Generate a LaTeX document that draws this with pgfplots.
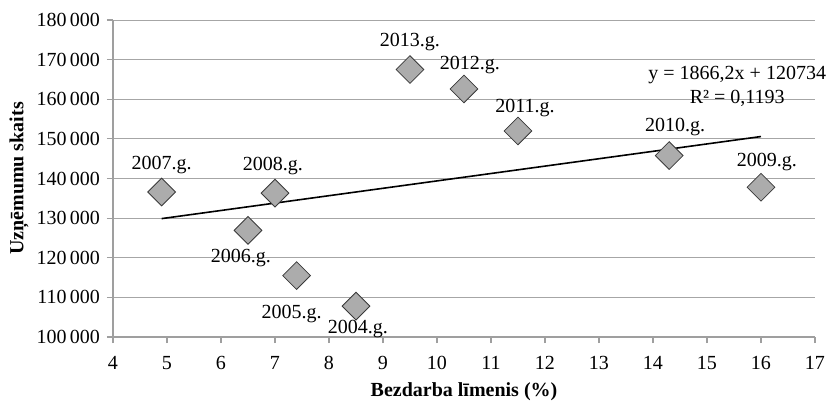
\documentclass[border=0pt]{standalone}
\usepackage{fontspec}
\setmainfont{Liberation Serif}
\usepackage{pgfplots}
\usepackage{pgfplotstable}
\pgfplotsset{compat=1.18}

% unemployment rate (%) vs number of enterprises, label offsets in pt
\pgfplotstableread{
x     y       lab      dx    dy
8.5   107800  2004.g.  1.0   -11.5
7.4   115500  2005.g.  -2.5  -19.0
6.5   126900  2006.g.  -3.5  -14.0
4.9   136600  2007.g.  0.0   13.5
7.0   136300  2008.g.  -1.0  13.5
16.0  137800  2009.g.  3.0   12.5
14.3  145800  2010.g.  3.0   14.5
11.5  152000  2011.g.  3.5   11.5
10.5  162600  2012.g.  3.0   12.0
9.5   167500  2013.g.  0.0   14.0
}\pts

\begin{document}
\begin{tikzpicture}
\begin{axis}[
    at={(0,0)}, anchor=south west,
    scale only axis,
    width=351pt, height=158.5pt,
    xmin=4, xmax=17, ymin=100000, ymax=180000,
    xtick={4,5,...,17},
    ytick={100000,110000,...,180000},
    axis lines*=left,
    axis line style={gray!75, line width=0.6pt},
    tick style={gray!75, line width=0.6pt},
    tick align=outside, major tick length=3pt,
    ymajorgrids, grid style={gray!70, line width=0.5pt},
    scaled y ticks=false,
    /pgf/number format/.cd, fixed, 1000 sep={\,}, assume math mode=true,
    /pgfplots/.cd,
    ticklabel style={font=\fontsize{10}{12}\selectfont},
    xticklabel style={yshift=-3pt},
    xlabel={\textbf{Bezdarba līmenis (\%)}},
    ylabel={\textbf{Uzņēmumu skaits}},
    label style={font=\fontsize{10}{12}\selectfont},
    xlabel style={at={(axis description cs:0.5,0)}, anchor=center, yshift=-27.5pt},
    ylabel style={at={(axis description cs:0,0.5)}, anchor=center, yshift=47pt},
    clip=false,
]
\addplot[black, line width=0.8pt] coordinates {(4.9,129878) (16,150593)};
\addplot[only marks, mark=square*, mark size=4.9pt,
    mark options={rotate=45, fill=gray!65, draw=gray!45!black, line width=0.4pt},
    point meta=explicit symbolic,
    visualization depends on={\thisrow{dx}\as\dx},
    visualization depends on={\thisrow{dy}\as\dy},
    nodes near coords,
    nodes near coords style={anchor=center, xshift=\dx pt, yshift=\dy pt,
        font=\fontsize{10}{12}\selectfont, inner sep=0pt, text=black},
] table[x=x, y=y, meta=lab] {\pts};
\node[font=\fontsize{10}{12}\selectfont, align=center, inner sep=0pt]
    at (axis cs:15.56,163300) {y = 1866,2x + 120734\\R² = 0,1193};
\end{axis}
\pgfresetboundingbox
\path (-56.5pt,-33pt) rectangle (357pt,168.5pt);
\end{tikzpicture}
\end{document}
